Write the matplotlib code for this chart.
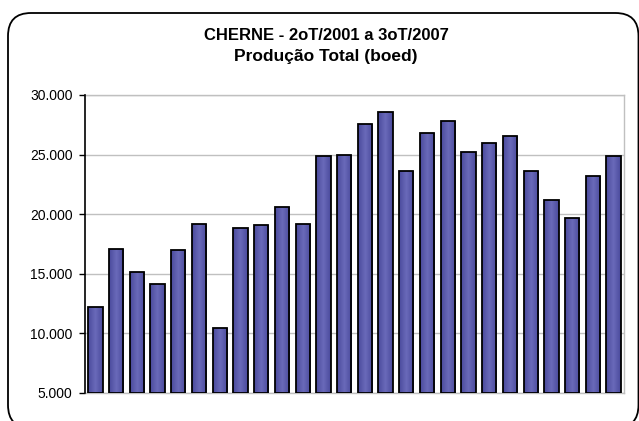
import matplotlib
matplotlib.use("Agg")
import matplotlib.pyplot as plt
import numpy as np
from matplotlib.patches import FancyBboxPatch
from matplotlib.colors import LinearSegmentedColormap

plt.rcParams['font.family'] = ['Liberation Sans', 'DejaVu Sans']

quarters = ["2T01", "3T01", "4T01",
            "1T02", "2T02", "3T02", "4T02",
            "1T03", "2T03", "3T03", "4T03",
            "1T04", "2T04", "3T04", "4T04",
            "1T05", "2T05", "3T05", "4T05",
            "1T06", "2T06", "3T06", "4T06",
            "1T07", "2T07", "3T07"]
production = [12200, 17100, 15100, 14100, 17000, 19200, 10400,
              18800, 19100, 20600, 19200, 24900, 25000, 27550,
              28600, 23650, 26850, 27800, 25200, 26000, 26550,
              23650, 21200, 19650, 23200, 24900]
yticks = [5000, 10000, 15000, 20000, 25000, 30000]
ytick_labels = ["5.000", "10.000", "15.000", "20.000", "25.000", "30.000"]
title_lines = ["CHERNE - 2oT/2001 a 3oT/2007", "Produção Total (boed)"]

W, H = 639, 421
fig = plt.figure(figsize=(W / 100, H / 100), dpi=100)

# rounded chart border (partly running off the right and bottom edges)
border = FancyBboxPatch((8 / W, 1 - 428 / H), (638.5 - 8) / W, (428 - 13) / H,
                        boxstyle="round,pad=0,rounding_size=0.036",
                        transform=fig.transFigure, facecolor="none",
                        edgecolor="black", linewidth=1.3, mutation_aspect=W / H,
                        zorder=10)
fig.patches.append(border)

ax = fig.add_axes([85 / W, 1 - 392.7 / H, (624 - 85) / W, (392.7 - 95) / H])
ax.set_facecolor("none")

x = np.arange(len(production))
bars = ax.bar(x, np.array(production) - 5000, bottom=5000, width=0.69,
              color="#5858A8", edgecolor="black", linewidth=1.3, zorder=3)

cmap = LinearSegmentedColormap.from_list("g", ["#4A4A9C", "#6A6ABA", "#4A4A9C"])
grad = np.linspace(0, 1, 64).reshape(1, -1)
for b in bars:
    x0, y0 = b.get_x(), b.get_y()
    im = ax.imshow(grad, extent=(x0, x0 + b.get_width(), y0, y0 + b.get_height()),
                   cmap=cmap, aspect="auto", zorder=3.5, interpolation="bilinear")
    im.set_clip_path(b)
    b.set_facecolor("none")
    b.set_zorder(4)

ax.set_xlim(-0.5, len(production) - 0.5)
ax.set_ylim(5000, 30000)
ax.set_yticks(yticks)
ax.set_yticklabels(ytick_labels, fontsize=10)
ax.set_xticks([])
ax.yaxis.grid(True, color="#C0C0C0", linewidth=1, zorder=0)
ax.tick_params(axis="y", direction="out", length=4, width=1, pad=5, colors="black")

for s in ["top", "right", "bottom"]:
    ax.spines[s].set_color("#C0C0C0")
    ax.spines[s].set_linewidth(1)
ax.spines["left"].set_color("black")
ax.spines["left"].set_linewidth(1.2)
ax.spines["left"].set_zorder(5)

fig.text(326 / W, 1 - 35.5 / H, title_lines[0], ha="center", va="center",
         fontsize=12, fontweight="bold")
fig.text(326 / W, 1 - 56 / H, title_lines[1], ha="center", va="center",
         fontsize=12.5, fontweight="bold")

fig.savefig("out.png", dpi=100)
